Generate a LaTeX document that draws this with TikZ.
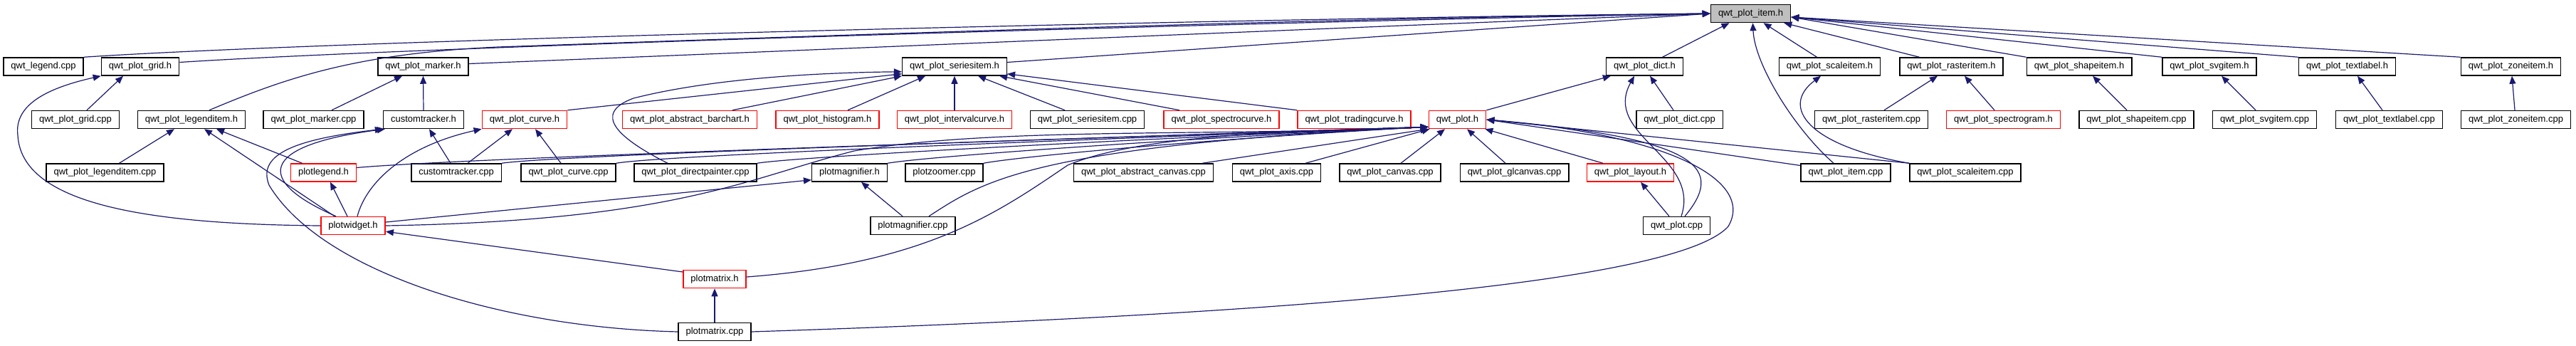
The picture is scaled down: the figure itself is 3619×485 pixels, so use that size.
\documentclass[tikz,border=0pt]{standalone}
\usepackage{fontspec}
\setmainfont{Liberation Sans}
\usepackage{tikz}
\usetikzlibrary{arrows.meta}
\definecolor{edgeblue}{HTML}{191970}
\definecolor{boxgray}{HTML}{BFBFBF}
\definecolor{boxred}{HTML}{FF0000}

\begin{document}
\begin{tikzpicture}[x=1pt, y=-1pt,
    file/.style={draw=black, fill=white, line width=1.5pt, inner xsep=10.5pt, inner ysep=0pt,
                 minimum height=25pt, text height=9.5pt, text depth=2.7pt,
                 font=\fontsize{13}{15}\selectfont},
    redfile/.style={file, draw=boxred},
    mainfile/.style={file, fill=boxgray},
    dep/.style={edgeblue, line width=1.2pt, -{Triangle[length=11pt, width=9pt]}}]
    \useasboundingbox (0,0) rectangle (3619,485);

    \node[mainfile] (item) at (2459.5,19) {qwt\_plot\_item.h};

    \node[file] (legendcpp) at (61,93.5) {qwt\_legend.cpp};
    \node[file] (gridh) at (197,93.5) {qwt\_plot\_grid.h};
    \node[file] (markerh) at (594.5,93.5) {qwt\_plot\_marker.h};
    \node[file] (seriesitemh) at (1341,93.5) {qwt\_plot\_seriesitem.h};
    \node[file] (dicth) at (2310.5,93.5) {qwt\_plot\_dict.h};
    \node[file] (scaleitemh) at (2570.5,93.5) {qwt\_plot\_scaleitem.h};
    \node[file] (rasteritemh) at (2741.5,93.5) {qwt\_plot\_rasteritem.h};
    \node[file] (shapeitemh) at (2921,93.5) {qwt\_plot\_shapeitem.h};
    \node[file] (svgitemh) at (3104,93.5) {qwt\_plot\_svgitem.h};
    \node[file] (textlabelh) at (3297.5,93.5) {qwt\_plot\_textlabel.h};
    \node[file] (zoneitemh) at (3527.5,93.5) {qwt\_plot\_zoneitem.h};

    \node[file] (gridcpp) at (106,168) {qwt\_plot\_grid.cpp};
    \node[file] (legenditemh) at (269,168) {qwt\_plot\_legenditem.h};
    \node[file] (markercpp) at (440.5,168) {qwt\_plot\_marker.cpp};
    \node[file] (customtrackerh) at (595,168) {customtracker.h};
    \node[redfile] (curveh) at (737,168) {qwt\_plot\_curve.h};
    \node[redfile] (barcharth) at (969,168) {qwt\_plot\_abstract\_barchart.h};
    \node[redfile] (histogramh) at (1162.5,168) {qwt\_plot\_histogram.h};
    \node[redfile] (intervalcurveh) at (1341,168) {qwt\_plot\_intervalcurve.h};
    \node[file] (seriesitemcpp) at (1527.5,168) {qwt\_plot\_seriesitem.cpp};
    \node[redfile] (spectrocurveh) at (1716,168) {qwt\_plot\_spectrocurve.h};
    \node[redfile] (tradingcurveh) at (1902.5,168) {qwt\_plot\_tradingcurve.h};
    \node[redfile] (ploth) at (2047.5,168) {qwt\_plot.h};
    \node[file] (dictcpp) at (2359.5,168) {qwt\_plot\_dict.cpp};
    \node[file] (rasteritemcpp) at (2629,168) {qwt\_plot\_rasteritem.cpp};
    \node[redfile] (spectrogramh) at (2814.5,168) {qwt\_plot\_spectrogram.h};
    \node[file] (shapeitemcpp) at (3001.5,168) {qwt\_plot\_shapeitem.cpp};
    \node[file] (svgitemcpp) at (3181.5,168) {qwt\_plot\_svgitem.cpp};
    \node[file] (textlabelcpp) at (3356.5,168) {qwt\_plot\_textlabel.cpp};
    \node[file] (zoneitemcpp) at (3534.5,168) {qwt\_plot\_zoneitem.cpp};

    \node[file] (legenditemcpp) at (147.5,242.5) {qwt\_plot\_legenditem.cpp};
    \node[redfile] (plotlegendh) at (454.5,242.5) {plotlegend.h};
    \node[file] (customtrackercpp) at (641,242.5) {customtracker.cpp};
    \node[file] (curvecpp) at (798.5,242.5) {qwt\_plot\_curve.cpp};
    \node[file] (directpaintercpp) at (977,242.5) {qwt\_plot\_directpainter.cpp};
    \node[file] (plotmagnifierh) at (1193.5,242.5) {plotmagnifier.h};
    \node[file] (plotzoomercpp) at (1326.5,242.5) {plotzoomer.cpp};
    \node[file] (abstractcanvascpp) at (1606.5,242.5) {qwt\_plot\_abstract\_canvas.cpp};
    \node[file] (axiscpp) at (1793.5,242.5) {qwt\_plot\_axis.cpp};
    \node[file] (canvascpp) at (1953,242.5) {qwt\_plot\_canvas.cpp};
    \node[file] (glcanvascpp) at (2127.5,242.5) {qwt\_plot\_glcanvas.cpp};
    \node[redfile] (layouth) at (2290.5,242.5) {qwt\_plot\_layout.h};
    \node[file] (itemcpp) at (2593,242.5) {qwt\_plot\_item.cpp};
    \node[file] (scaleitemcpp) at (2761,242.5) {qwt\_plot\_scaleitem.cpp};

    \node[redfile] (plotwidgeth) at (496,317) {plotwidget.h};
    \node[file] (plotmagnifiercpp) at (1282.5,317) {plotmagnifier.cpp};
    \node[file] (plotcpp) at (2355.5,317) {qwt\_plot.cpp};

    \node[redfile] (plotmatrixh) at (1004,392) {plotmatrix.h};
    \node[file] (plotmatrixcpp) at (1004,466) {plotmatrix.cpp};

    \draw[dep] (legendcpp.north east) .. controls (500,55) and (1800,25) .. (item.west);
    \draw[dep] ([yshift=6pt]gridh.east) .. controls (600,65) and (1800,30) .. (item.west);
    \draw[dep] ([xshift=25pt]legenditemh.north) .. controls (400,110) and (500,75) .. (700,66)
        .. controls (1300,45) and (1900,25) .. (item.west);
    \draw[dep] ([yshift=4pt]markerh.east) .. controls (1200,68) and (1900,38) .. (item.west);
    \draw[dep] ([yshift=6pt]seriesitemh.east) -- (item.west);
    \draw[dep] ([xshift=25pt]dicth.north) -- ([xshift=-30pt]item.south);
    \draw[dep] ([xshift=-17pt]itemcpp.north) .. controls (2520,180) and (2465,90) .. ([xshift=3pt]item.south);
    \draw[dep] ([xshift=-18pt]scaleitemh.north) -- ([xshift=18pt]item.south);
    \draw[dep] ([xshift=-45pt]rasteritemh.north) -- ([xshift=-10pt]item.south east);
    \draw[dep] (shapeitemh.north west) -- ([yshift=-5pt]item.east);
    \draw[dep] (svgitemh.north west) -- ([yshift=-5pt]item.east);
    \draw[dep] (textlabelh.north west) -- ([yshift=-5pt]item.east);
    \draw[dep] (zoneitemh.north west) -- ([yshift=-5pt]item.east);

    \draw[dep] ([xshift=16pt]gridcpp.north) -- ([xshift=-24pt]gridh.south);
    \draw[dep] (plotwidgeth.west) .. controls (200,315) and (30,285) .. (25,190)
        .. controls (20,150) and (60,125) .. (gridh.south west);
    \draw[dep] ([xshift=20pt]legenditemcpp.north) -- ([xshift=-24pt]legenditemh.south);
    \draw[dep] ([xshift=-30pt]plotlegendh.north) -- ([xshift=35pt]legenditemh.south);
    \draw[dep] ([xshift=-26pt]plotwidgeth.north) -- ([xshift=18pt]legenditemh.south);
    \draw[dep] ([xshift=25.5pt]markercpp.north) -- ([xshift=-29.5pt]markerh.south);
    \draw[dep] (customtrackerh.north) -- (markerh.south);
    \draw[dep] ([xshift=-8pt]customtrackercpp.north) -- ([xshift=8pt]customtrackerh.south);
    \draw[dep] ([xshift=-24pt]plotwidgeth.north) .. controls (360,255) and (360,205) .. ([xshift=3pt]customtrackerh.south west);
    \draw[dep] (plotmatrixcpp.west) .. controls (700,460) and (450,380) .. (378,260)
        .. controls (360,215) and (420,195) .. (customtrackerh.south west);
    \draw[dep] ([xshift=16pt]customtrackercpp.north) -- ([xshift=-17pt]curveh.south);
    \draw[dep] ([xshift=-10.5pt]curvecpp.north) -- ([xshift=15pt]curveh.south);
    \draw[dep] ([xshift=6pt]plotwidgeth.north) .. controls (515,255) and (570,205) .. (curveh.south west);

    \draw[dep] (curveh.north east) -- ([yshift=3pt]seriesitemh.south west);
    \draw[dep] ([xshift=-39pt]directpaintercpp.north) .. controls (870,195) and (830,160) .. (890,138)
        .. controls (1000,110) and (1150,102) .. ([yshift=6pt]seriesitemh.south west);
    \draw[dep] ([xshift=60pt]barcharth.north) -- (seriesitemh.south west);
    \draw[dep] ([xshift=28.5pt]histogramh.north) -- ([xshift=-41pt]seriesitemh.south);
    \draw[dep] (intervalcurveh.north) -- (seriesitemh.south);
    \draw[dep] ([xshift=-31.5pt]seriesitemcpp.north) -- ([xshift=33pt]seriesitemh.south);
    \draw[dep] ([xshift=-59pt]spectrocurveh.north) -- ([xshift=-11pt]seriesitemh.south east);
    \draw[dep] (tradingcurveh.north west) -- ([yshift=3pt]seriesitemh.south east);

    \draw[dep] (ploth.north east) -- ([xshift=7pt]dicth.south west);
    \draw[dep] ([xshift=-8.5pt]dictcpp.north) -- ([xshift=7.5pt]dicth.south);
    \draw[dep] ([xshift=6.5pt]plotcpp.north) .. controls (2390,220) and (2250,190) .. ([xshift=-14.5pt]dicth.south);
    \draw[dep] ([xshift=18pt]rasteritemcpp.north) -- ([xshift=-19.5pt]rasteritemh.south);
    \draw[dep] ([xshift=-12.5pt]spectrogramh.north) -- ([xshift=18.5pt]rasteritemh.south);
    \draw[dep] ([xshift=-13.5pt]shapeitemcpp.north) -- ([xshift=19pt]shapeitemh.south);
    \draw[dep] ([xshift=-12.5pt]svgitemcpp.north) -- ([xshift=17pt]svgitemh.south);
    \draw[dep] ([xshift=-9.5pt]textlabelcpp.north) -- ([xshift=14.5pt]textlabelh.south);
    \draw[dep] ([xshift=-1.5pt]zoneitemcpp.north) -- ([xshift=1.5pt]zoneitemh.south);
    \draw[dep] (scaleitemcpp.north west) .. controls (2540,205) and (2500,150) .. ([xshift=-12.5pt]scaleitemh.south);

    \draw[dep] ([yshift=7pt]plotlegendh.east) .. controls (650,222) and (1500,195) .. ([yshift=3pt]ploth.south west);
    \draw[dep] (customtrackercpp.north east) .. controls (780,218) and (1500,195) .. ([yshift=3pt]ploth.south west);
    \draw[dep] (curvecpp.north east) .. controls (930,218) and (1550,195) .. ([yshift=3pt]ploth.south west);
    \draw[dep] (directpaintercpp.north east) .. controls (1120,220) and (1600,195) .. ([yshift=3pt]ploth.south west);
    \draw[dep] (plotmagnifierh.north east) .. controls (1300,220) and (1650,195) .. ([yshift=3pt]ploth.south west);
    \draw[dep] (plotzoomercpp.north east) .. controls (1430,220) and (1700,195) .. ([yshift=3pt]ploth.south west);
    \draw[dep] ([xshift=22.5pt]plotmagnifiercpp.north) .. controls (1380,255) and (1450,205) .. ([yshift=3pt]ploth.south west);
    \draw[dep] (plotwidgeth.east) .. controls (950,310) and (1050,250) .. (1200,212)
        .. controls (1400,178) and (1700,192) .. ([yshift=3pt]ploth.south west);
    \draw[dep] ([yshift=3pt]plotmatrixh.east) .. controls (1300,370) and (1400,300) .. (1500,232)
        .. controls (1600,190) and (1800,185) .. ([yshift=3pt]ploth.south west);
    \draw[dep] ([xshift=-16pt]abstractcanvascpp.north east) -- (ploth.south west);
    \draw[dep] ([xshift=40.5pt]axiscpp.north) -- ([xshift=2pt]ploth.south west);
    \draw[dep] ([xshift=15pt]canvascpp.north) -- ([xshift=-17.5pt]ploth.south);
    \draw[dep] ([xshift=-12.5pt]glcanvascpp.north) -- ([xshift=13.5pt]ploth.south);
    \draw[dep] ([xshift=-38.5pt]layouth.north) -- ([xshift=-2pt]ploth.south east);
    \draw[dep] ([xshift=11.5pt]plotcpp.north) .. controls (2420,240) and (2400,195) .. (ploth.east);
    \draw[dep] ([yshift=10pt]itemcpp.west) -- (ploth.east);
    \draw[dep] (scaleitemcpp.north west) -- (ploth.east);
    \draw[dep] (plotmatrixcpp.east) .. controls (1700,445) and (2350,405) .. (2428,318)
        .. controls (2465,255) and (2350,190) .. (ploth.east);

    \draw[dep] ([xshift=-8pt]plotwidgeth.north) -- ([xshift=9.5pt]plotlegendh.south);
    \draw[dep] ([xshift=-14.5pt]plotmagnifiercpp.north) -- ([xshift=16.5pt]plotmagnifierh.south);
    \draw[dep] ([yshift=5pt]plotwidgeth.east) -- ([yshift=3pt]plotmagnifierh.south west);
    \draw[dep] ([xshift=-10.5pt]plotcpp.north) -- ([xshift=14.5pt]layouth.south);
    \draw[dep] ([yshift=10pt]plotmatrixh.west) -- ([yshift=5pt]plotwidgeth.south east);
    \draw[dep] (plotmatrixcpp.north) -- (plotmatrixh.south);
\end{tikzpicture}
\end{document}
